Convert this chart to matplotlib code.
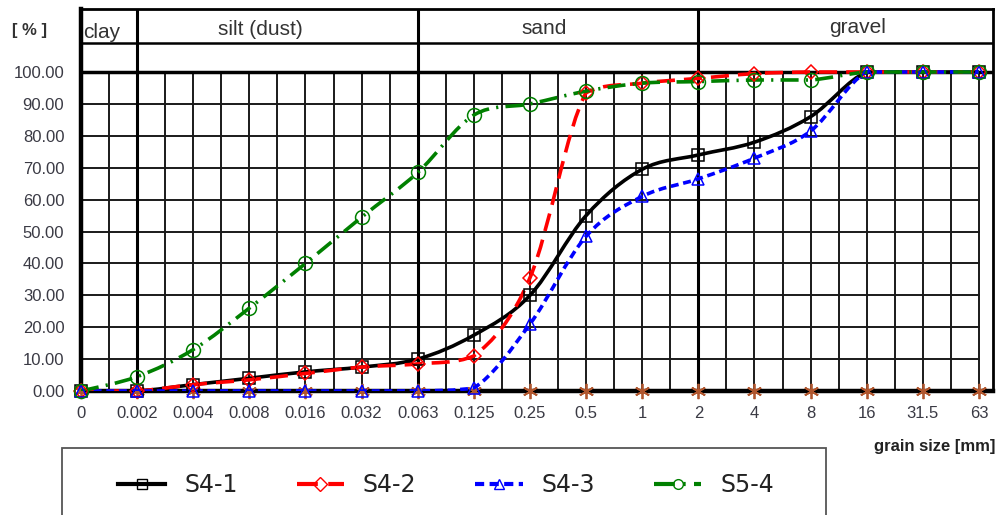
import matplotlib
matplotlib.use("Agg")
import matplotlib.pyplot as plt
from matplotlib.path import Path
from matplotlib.patches import PathPatch, Rectangle
from matplotlib.lines import Line2D

plt.rcParams['font.family'] = ['Liberation Sans', 'DejaVu Sans']

# grain size classes (equal spacing on the chart)
grain_labels = ['0', '0.002', '0.004', '0.008', '0.016', '0.032', '0.063', '0.125',
                '0.25', '0.5', '1', '2', '4', '8', '16', '31.5', '63']

# percent passing per sample
s4_1 = [0, 0, 2, 4, 6, 7.5, 10, 17.5, 30, 55, 69.5, 74, 78, 86, 100, 100, 100]
s4_2 = [0, 0, 2, 3.5, 5.5, 7.5, 8.5, 11, 35.5, 93.5, 96.5, 98, 99.5, 100, 100, 100, 100]
s4_3 = [0, 0, 0, 0, 0, 0, 0, 1, 21, 48.5, 61, 66.5, 73, 81.5, 100, 100, 100]
s5_4 = [0, 4.5, 13, 26, 40, 54.5, 68.5, 86.5, 90, 94, 96.5, 97, 97.5, 97.5, 100, 100, 100]
base = [0, 0, 0, 0, 0, 0, 0, 0, 0, 0, 0, 0, 0, 0, 0, 0, 0]

# soil class header: label and the class boundary (grain index) on its left
class_names = ['clay', 'silt (dust)', 'sand', 'gravel']
class_starts = [0, 1, 6, 11]
# where the header labels sit (x in grain index, y in chart units)
label_pos = [(0.03, 112.4), (3.19, 113.3), (8.25, 113.6), (13.83, 113.9)]

idx = list(range(len(grain_labels)))


def smooth_path(x, y):
    # Bezier segments through the points, control points kept inside each segment
    n = len(x)
    verts = [(x[0], y[0])]
    codes = [Path.MOVETO]
    for i in range(n - 1):
        a = max(i - 1, 0)
        b = min(i + 2, n - 1)
        lo, hi = min(y[i], y[i + 1]), max(y[i], y[i + 1])
        c1y = min(max(y[i] + (y[i + 1] - y[a]) / 6, lo), hi)
        c2y = min(max(y[i + 1] - (y[b] - y[i]) / 6, lo), hi)
        c1 = (x[i] + (x[i + 1] - x[a]) / 6, c1y)
        c2 = (x[i + 1] - (x[b] - x[i]) / 6, c2y)
        verts += [c1, c2, (x[i + 1], y[i + 1])]
        codes += [Path.CURVE4] * 3
    return Path(verts, codes)


fig = plt.figure(figsize=(10.02, 5.15), dpi=100)
ax = fig.add_axes([81 / 1002, (515 - 391) / 515, (993 - 81) / 1002, (391 - 9) / 515])

ytop = (391 - 9) / 3.19
xend = 16.25
ax.set_xlim(0, xend)
ax.set_ylim(0, ytop)

# grid
for v in [i * 0.5 for i in range(33)]:
    ax.plot([v, v], [0, 100], color='#1a1a1a', lw=1.4, zorder=1)
for h in range(10, 100, 10):
    ax.plot([0, 16], [h, h], color='#1a1a1a', lw=1.4, zorder=1)

# header frame
hline = (391 - 43) / 3.19
ax.plot([0, xend], [100, 100], color='black', lw=2.5, zorder=2)
ax.plot([0, xend], [hline, hline], color='black', lw=1.8, zorder=2)
for s in class_starts[1:]:
    ax.plot([s, s], [0, ytop], color='black', lw=2.2, zorder=2)
for name, (tx, ty) in zip(class_names, label_pos):
    ax.text(tx, ty, name, ha='left' if name == 'clay' else 'center', va='center',
            fontsize=15, color='#333333')

for sp in ['left', 'bottom']:
    ax.spines[sp].set_linewidth(3.2)
for sp in ['right', 'top']:
    ax.spines[sp].set_linewidth(2)

series = [
    ('S4-1', s4_1, 'black', '-', 's', 9),
    ('S4-2', s4_2, 'red', (0, (5, 2.5)), 'D', 7),
    ('S4-3', s4_3, 'blue', (0, (2.2, 1.3)), '^', 8),
    ('S5-4', s5_4, 'green', (0, (5, 2, 0.6, 2)), 'o', 10),
]

ax.plot(idx, base, ls='none', marker=(6, 2, 0), ms=11, mec='#b0562e', mew=1.3,
        clip_on=False, zorder=3)

handles = []
for name, vals, col, ls, mk, ms in series:
    patch = PathPatch(smooth_path(idx, vals), fill=False, edgecolor=col, lw=2.6,
                      linestyle=ls, zorder=4)
    ax.add_patch(patch)
    ax.plot(idx, vals, ls='none', marker=mk, ms=ms, mfc='none', mec=col, mew=1.1,
            clip_on=False, zorder=5)
    handles.append(Line2D([], [], color=col, lw=3, ls=ls, marker=mk, ms=7,
                          mfc='none', mec=col, label=name))

ax.set_xticks(idx)
ax.set_xticklabels(grain_labels)
ax.set_yticks(range(0, 101, 10))
ax.set_yticklabels(['%.2f' % v for v in range(0, 101, 10)])
ax.tick_params(length=0, labelsize=12, labelcolor='#3a3a44')
ax.tick_params(axis='x', pad=11)
ax.tick_params(axis='y', pad=12)

fig.text(30 / 1002, 1 - 30 / 515, '[ % ]', ha='center', va='center', fontsize=12,
         fontweight='bold', color='#333333')
fig.text(995 / 1002, 1 - 447 / 515, 'grain size [mm]', ha='right', va='center',
         fontsize=12, fontweight='bold', color='#222222')

# legend box (runs off the bottom of the figure)
fig.patches.append(Rectangle((62 / 1002, -0.1), (826 - 62) / 1002, (515 - 448) / 515 + 0.1,
                             transform=fig.transFigure, fill=False, edgecolor='#555555', lw=1.3))
fig.legend(handles=handles, loc='center left', bbox_to_anchor=(97 / 1002, 1 - 485 / 515),
           ncol=4, frameon=False, prop={'family': 'DejaVu Sans', 'size': 17},
           handlelength=2.0, handletextpad=0.8, columnspacing=2.5, labelcolor='#222222')

fig.savefig('out.png', dpi=100)
